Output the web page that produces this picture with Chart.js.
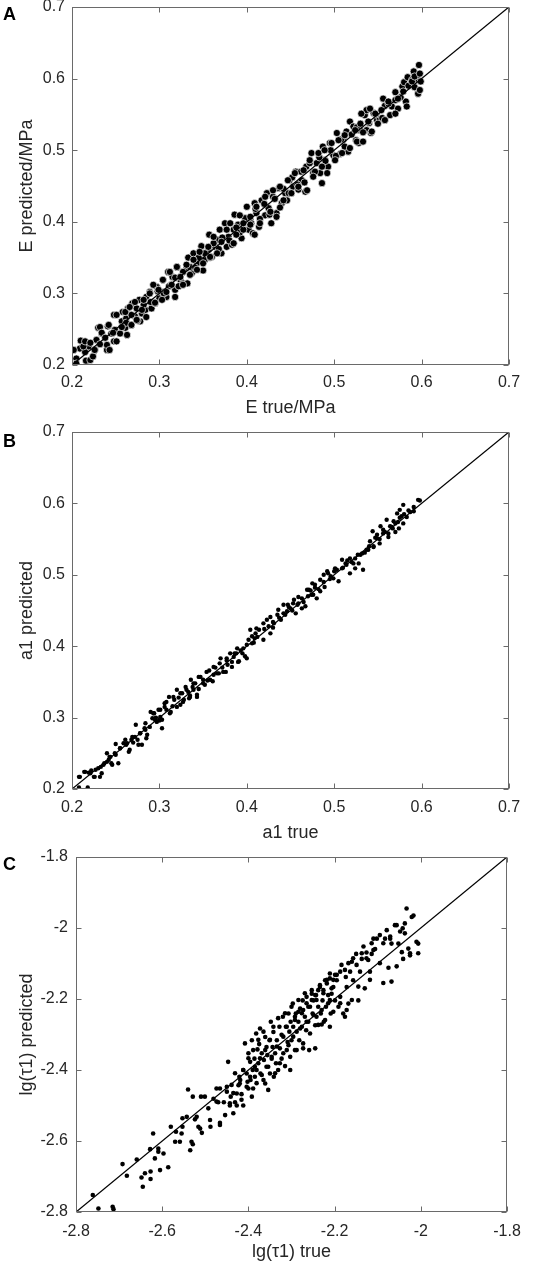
<!DOCTYPE html>
<html lang="en">
<head>
  <meta charset="UTF-8" />
  <title>Predicted vs true</title>
  <script src="https://cdn.jsdelivr.net/npm/chart.js"></script>
  <style>
    body { margin: 0; background: #fff; font-family: 'Liberation Sans', Arial, sans-serif; }
    #page { position: relative; width: 533px; height: 1263px; overflow: hidden; }
    .panel { position: absolute; left: 0; }
    .tag { position: absolute; left: 3px; font-size: 18px; font-weight: bold; line-height: 1; color: #000; }
  </style>
</head>
<body>
  <div id="page">
    <canvas id="chartA" class="panel" style="top:0px" width="533" height="420"></canvas>
    <canvas id="chartB" class="panel" style="top:420px" width="533" height="424"></canvas>
    <canvas id="chartC" class="panel" style="top:844px" width="533" height="419"></canvas>
    <div class="tag" style="top:5px">A</div>
    <div class="tag" style="top:432px">B</div>
    <div class="tag" style="top:855px">C</div>
  </div>

  <script>
    // ---- data ----
    const ticksAB = [0.2, 0.3, 0.4, 0.5, 0.6, 0.7];
    const tickLabelsAB = ['0.2', '0.3', '0.4', '0.5', '0.6', '0.7'];
    const ticksC = [-2.8, -2.6, -2.4, -2.2, -2, -1.8];
    const tickLabelsC = ['-2.8', '-2.6', '-2.4', '-2.2', '-2', '-1.8'];

    const lineAB = [0.2, 0.7];   // y = x reference line ends
    const lineC = [-2.8, -1.8];

    // panel A: E
    const xA = [0.200,0.205,0.205,0.210,0.209,0.216,0.221,0.219,0.224,0.226,0.228,0.230,0.234,0.240,0.241,0.240,0.248,0.248,0.249,0.255,
      0.257,0.258,0.261,0.262,0.264,0.268,0.269,0.272,0.274,0.277,0.278,0.280,0.284,0.285,0.289,0.291,0.295,0.297,0.300,0.303,
      0.304,0.308,0.310,0.313,0.315,0.318,0.320,0.324,0.327,0.331,0.332,0.333,0.337,0.339,0.343,0.348,0.350,0.352,0.356,0.357,
      0.360,0.364,0.366,0.369,0.371,0.375,0.377,0.379,0.383,0.385,0.386,0.390,0.394,0.400,0.402,0.404,0.407,0.409,0.411,0.414,
      0.417,0.421,0.423,0.425,0.428,0.430,0.434,0.437,0.440,0.444,0.446,0.449,0.453,0.456,0.459,0.463,0.467,0.468,0.474,0.476,
      0.480,0.484,0.486,0.487,0.489,0.493,0.495,0.499,0.503,0.507,0.510,0.514,0.516,0.518,0.522,0.525,0.528,0.530,0.535,0.537,
      0.537,0.542,0.545,0.549,0.556,0.558,0.564,0.566,0.570,0.578,0.580,0.582,0.584,0.589,0.591,0.596,0.596,0.596,0.597,0.599,
      0.573,0.552,0.541,0.531,
      0.215,0.232,0.245,0.262,0.268,0.275,0.282,0.290,0.298,0.305,0.311,0.318,0.322,0.327,0.335,0.341,0.345,0.352,0.358,0.362,
      0.368,0.372,0.380,0.388,0.392,0.398,0.405,0.410,0.415,0.420,0.426,0.432,0.438,0.442,0.448,0.452,0.458,0.462,0.466,0.472,
      0.478,0.483,0.490,0.496,0.502,0.508,0.512,0.520,0.526,0.533,0.540,0.548,0.555,0.562,0.570,0.576,0.585,0.592,
      0.202,0.213,0.215,0.221,0.226,0.232,0.234,0.238,0.242,0.243,0.247,0.251,0.251,0.257,0.261,0.263,0.266,0.268,0.272,0.274,
      0.280,0.282,0.285,0.289,0.293,0.295,0.299,0.303,0.304,0.308,0.312,0.314,0.318,0.320,0.324,0.327,0.331,0.335,0.339,0.343,
      0.346,0.350,0.356,0.358,0.362,0.366,0.371,0.377,0.381,0.385,0.388,0.392,0.396,0.404,0.409,
      0.396,0.404,0.411,0.415,0.421,0.427,0.430,0.434,0.438,0.442,0.447,0.451,0.455,0.459,0.465,0.469,0.472,0.476,0.482,0.486,
      0.489,0.492,0.497,0.501,0.505,0.509,0.512,0.518,0.524,0.526,0.530,0.533,0.539,0.543,0.547,0.550,0.554,0.558,0.562,0.570,
      0.573,0.579,0.583,0.589,0.592,0.598,0.598];
    const yA = [0.221,0.209,0.202,0.234,0.223,0.206,0.207,0.226,0.212,0.221,0.235,0.252,0.244,0.221,0.254,0.228,0.233,0.270,0.249,0.244,
      0.261,0.274,0.252,0.265,0.279,0.256,0.286,0.268,0.279,0.291,0.261,0.272,0.277,0.295,0.302,0.279,0.286,0.309,0.293,0.302,
      0.319,0.295,0.330,0.312,0.323,0.305,0.337,0.319,0.314,0.335,0.314,0.350,0.328,0.356,0.342,0.366,0.332,0.347,0.361,0.382,
      0.351,0.365,0.375,0.389,0.356,0.398,0.365,0.379,0.368,0.389,0.410,0.396,0.377,0.421,0.389,0.403,0.384,0.426,0.412,0.393,
      0.430,0.409,0.440,0.419,0.398,0.435,0.412,0.447,0.426,0.440,0.430,0.458,0.449,0.470,0.445,0.458,0.442,0.477,0.496,0.468,
      0.482,0.468,0.454,0.505,0.486,0.477,0.510,0.493,0.524,0.495,0.514,0.526,0.498,0.540,0.533,0.514,0.510,0.528,0.549,0.556,
      0.528,0.524,0.552,0.542,0.572,0.562,0.549,0.561,0.581,0.589,0.595,0.568,0.602,0.598,0.610,0.584,0.579,0.598,0.619,0.596,
      0.558,0.544,0.558,0.551,
      0.218,0.229,0.244,0.259,0.270,0.262,0.284,0.288,0.303,0.300,0.310,0.322,0.310,0.330,0.337,0.336,0.350,0.356,0.350,0.370,
      0.362,0.378,0.374,0.392,0.385,0.405,0.398,0.418,0.404,0.425,0.410,0.432,0.420,0.446,0.440,0.462,0.452,0.470,0.455,0.482,
      0.470,0.490,0.485,0.500,0.492,0.515,0.505,0.522,0.532,0.525,0.538,0.550,0.545,0.565,0.570,0.574,0.590,0.588,
      0.221,0.226,0.233,0.231,0.221,0.253,0.245,0.238,0.256,0.221,0.245,0.233,0.270,0.253,0.274,0.242,0.281,0.256,0.288,0.263,
      0.277,0.291,0.267,0.300,0.312,0.287,0.305,0.291,0.319,0.302,0.330,0.312,0.295,0.337,0.323,0.312,0.340,0.326,0.347,0.333,
      0.358,0.342,0.365,0.351,0.379,0.356,0.372,0.389,0.398,0.370,0.382,0.409,0.389,0.396,0.382,
      0.398,0.407,0.421,0.398,0.435,0.414,0.444,0.407,0.449,0.430,0.458,0.440,0.468,0.449,0.472,0.444,0.486,0.463,0.496,0.477,
      0.500,0.468,0.510,0.486,0.514,0.496,0.521,0.503,0.528,0.512,0.537,0.512,0.540,0.526,0.551,0.537,0.556,0.542,0.568,0.551,
      0.572,0.582,0.561,0.596,0.603,0.607,0.584];

    // panel B: a1
    const xB = [0.208,0.208,0.218,0.214,0.219,0.225,0.227,0.232,0.233,0.237,0.240,0.242,0.246,0.250,0.250,0.259,0.261,0.265,0.269,0.273,
      0.275,0.278,0.280,0.284,0.286,0.290,0.292,0.294,0.297,0.301,0.303,0.306,0.311,0.313,0.317,0.320,0.324,0.326,0.330,0.334,
      0.336,0.339,0.341,0.343,0.347,0.352,0.357,0.361,0.364,0.368,0.370,0.376,0.378,0.381,0.385,0.389,0.391,0.395,0.398,0.402,
      0.406,0.410,0.414,0.419,0.423,0.427,0.431,0.435,0.439,0.442,0.446,0.450,0.454,0.456,0.459,0.463,0.467,0.471,0.475,0.476,
      0.480,0.484,0.488,0.492,0.496,0.501,0.505,0.509,0.513,0.518,0.524,0.528,0.532,0.537,0.541,0.544,0.549,0.553,0.556,0.560,
      0.564,0.568,0.572,0.575,0.579,0.577,0.591,0.596,0.574,0.545,0.522,
      0.222,0.244,0.255,0.262,0.270,0.283,0.296,0.300,0.308,0.315,0.322,0.328,0.333,0.335,0.338,0.345,0.350,0.355,0.362,0.372,
      0.377,0.383,0.388,0.393,0.400,0.408,0.412,0.420,0.425,0.430,0.437,0.444,0.448,0.452,0.458,0.465,0.470,0.473,0.478,0.482,
      0.488,0.495,0.500,0.510,0.515,0.520,0.527,0.535,0.540,0.547,0.552,0.558,0.562,0.567,0.570,0.575,0.580,0.585,
      0.209,0.215,0.221,0.226,0.230,0.234,0.236,0.240,0.243,0.245,0.249,0.253,0.255,0.263,0.266,0.268,0.272,0.276,0.278,0.284,
      0.285,0.289,0.293,0.295,0.299,0.301,0.303,0.306,0.308,0.312,0.316,0.320,0.324,0.327,0.331,0.335,0.339,0.343,0.345,0.350,
      0.354,0.358,0.362,0.366,0.369,0.373,0.377,0.383,0.386,0.390,0.396,0.400,0.406,0.409,
      0.404,0.411,0.419,0.427,0.430,0.436,0.442,0.447,0.453,0.459,0.463,0.469,0.474,0.478,0.484,0.489,0.493,0.499,0.503,0.509,
      0.514,0.518,0.524,0.530,0.533,0.539,0.545,0.549,0.552,0.556,0.562,0.566,0.570,0.573,0.579,0.583,0.587,0.591,0.598];
    const yB = [0.217,0.202,0.202,0.224,0.223,0.217,0.227,0.217,0.231,0.236,0.250,0.241,0.234,0.248,0.263,0.264,0.269,0.252,0.273,0.290,
      0.269,0.278,0.262,0.292,0.276,0.308,0.299,0.306,0.294,0.311,0.297,0.320,0.329,0.308,0.325,0.339,0.318,0.334,0.343,0.327,
      0.353,0.339,0.348,0.329,0.357,0.346,0.366,0.351,0.370,0.362,0.383,0.364,0.374,0.390,0.385,0.397,0.379,0.390,0.386,0.409,
      0.414,0.418,0.423,0.409,0.437,0.418,0.432,0.444,0.437,0.458,0.449,0.453,0.465,0.446,0.460,0.467,0.456,0.479,0.488,0.472,
      0.467,0.477,0.500,0.505,0.498,0.509,0.491,0.521,0.516,0.523,0.509,0.516,0.530,0.535,0.547,0.561,0.556,0.568,0.563,0.577,
      0.568,0.575,0.586,0.591,0.598,0.582,0.589,0.605,0.565,0.540,0.516,
      0.226,0.245,0.257,0.262,0.265,0.285,0.300,0.296,0.311,0.316,0.328,0.325,0.336,0.331,0.343,0.340,0.353,0.352,0.360,0.370,
      0.380,0.378,0.390,0.394,0.402,0.405,0.413,0.424,0.428,0.426,0.440,0.444,0.455,0.450,0.458,0.462,0.470,0.478,0.482,0.480,
      0.490,0.494,0.505,0.510,0.520,0.518,0.528,0.531,0.540,0.552,0.550,0.560,0.558,0.565,0.572,0.580,0.585,0.590,
      0.217,0.224,0.222,0.217,0.229,0.222,0.234,0.238,0.245,0.236,0.250,0.236,0.257,0.264,0.255,0.269,0.273,0.262,0.278,0.283,
      0.271,0.287,0.306,0.297,0.311,0.301,0.285,0.315,0.322,0.306,0.329,0.315,0.334,0.322,0.339,0.329,0.348,0.332,0.357,0.348,
      0.364,0.353,0.371,0.362,0.376,0.364,0.383,0.371,0.390,0.378,0.397,0.383,0.404,0.411,
      0.423,0.425,0.432,0.441,0.434,0.451,0.446,0.458,0.460,0.469,0.453,0.479,0.472,0.486,0.493,0.483,0.502,0.495,0.507,0.509,
      0.514,0.502,0.523,0.528,0.507,0.535,0.539,0.551,0.544,0.558,0.553,0.567,0.560,0.574,0.572,0.581,0.588,0.595,0.604];

    // panel C: lg(tau1)
    const xC = [-2.761,-2.748,-2.715,-2.713,-2.692,-2.682,-2.659,-2.648,-2.645,-2.640,-2.628,-2.627,-2.627,-2.621,-2.617,-2.609,-2.605,-2.609,-2.597,-2.586,
      -2.580,-2.570,-2.568,-2.559,-2.555,-2.553,-2.553,-2.543,-2.540,-2.535,-2.532,-2.529,-2.529,-2.524,-2.520,-2.516,-2.512,-2.510,-2.508,-2.493,
      -2.489,-2.488,-2.481,-2.474,-2.470,-2.466,-2.466,-2.457,-2.454,-2.450,-2.447,-2.443,-2.441,-2.435,-2.435,-2.431,-2.427,-2.423,-2.421,-2.420,
      -2.416,-2.412,-2.412,-2.408,-2.404,-2.402,-2.400,-2.400,-2.396,-2.395,-2.392,-2.390,-2.389,-2.386,-2.385,-2.382,-2.381,-2.379,-2.377,-2.375,
      -2.373,-2.372,-2.369,-2.365,-2.364,-2.361,-2.361,-2.358,-2.356,-2.354,-2.351,-2.350,-2.348,-2.346,-2.344,-2.342,-2.341,-2.338,-2.336,-2.334,
      -2.331,-2.328,-2.327,-2.323,-2.320,-2.319,-2.315,-2.313,-2.311,-2.309,-2.307,-2.305,-2.303,-2.302,-2.300,-2.297,-2.296,-2.292,-2.290,-2.288,
      -2.284,-2.282,-2.280,-2.276,-2.274,-2.273,-2.269,-2.266,-2.265,-2.261,-2.259,-2.257,-2.253,-2.251,-2.249,-2.245,-2.243,-2.242,-2.238,-2.234,
      -2.232,-2.230,-2.228,-2.225,-2.222,-2.220,-2.215,-2.211,-2.209,-2.207,-2.203,-2.199,-2.195,-2.191,-2.187,-2.184,-2.180,-2.176,-2.174,-2.172,
      -2.168,-2.164,-2.160,-2.157,-2.150,-2.145,-2.141,-2.137,-2.133,-2.130,-2.126,-2.122,-2.118,-2.114,-2.110,-2.106,-2.102,-2.095,-2.087,-2.083,
      -2.079,-2.075,-2.071,-2.068,-2.060,-2.056,-2.052,-2.044,-2.042,-2.041,-2.037,-2.033,-2.029,-2.025,-2.021,-2.017,-2.006,-2.010,
      -2.501,-2.474,-2.466,-2.450,-2.443,-2.439,-2.431,-2.427,-2.419,-2.416,-2.412,-2.404,-2.400,-2.396,-2.392,-2.389,-2.385,-2.381,-2.377,-2.373,
      -2.369,-2.365,-2.361,-2.358,-2.354,-2.350,-2.346,-2.342,-2.338,-2.334,-2.331,-2.327,-2.323,-2.319,-2.315,-2.311,-2.307,-2.303,-2.300,-2.296,
      -2.292,-2.288,-2.284,-2.280,-2.276,-2.273,-2.269,-2.265,-2.261,-2.257,-2.253,-2.249,-2.245,-2.242,-2.238,-2.234,-2.230,-2.226,-2.222,-2.218,
      -2.215,-2.211,-2.207,-2.203,-2.199,
      -2.056,-2.037,-2.048,-2.071,-2.095,-2.087,-2.114,-2.110,-2.137,-2.126,-2.157,-2.149,-2.168,-2.176,-2.187,-2.195,-2.203,-2.211,-2.218,-2.226,
      -2.238,-2.245,-2.253,-2.265,-2.273,-2.284,-2.292,-2.145,-2.118,-2.160,-2.172,-2.187,-2.211,-2.068,-2.025,-2.006];
    const yC = [-2.752,-2.790,-2.785,-2.792,-2.665,-2.698,-2.652,-2.703,-2.729,-2.691,-2.623,-2.686,-2.707,-2.579,-2.649,-2.621,-2.682,-2.630,-2.635,-2.674,
      -2.560,-2.602,-2.574,-2.602,-2.579,-2.560,-2.536,-2.532,-2.455,-2.626,-2.602,-2.609,-2.475,-2.539,-2.532,-2.560,-2.565,-2.475,-2.577,-2.508,
      -2.541,-2.560,-2.481,-2.452,-2.491,-2.549,-2.555,-2.491,-2.527,-2.447,-2.377,-2.500,-2.475,-2.465,-2.522,-2.491,-2.500,-2.443,-2.419,-2.438,
      -2.468,-2.500,-2.400,-2.325,-2.410,-2.433,-2.353,-2.452,-2.377,-2.428,-2.316,-2.400,-2.452,-2.368,-2.419,-2.297,-2.400,-2.342,-2.381,-2.327,
      -2.283,-2.410,-2.353,-2.428,-2.372,-2.307,-2.438,-2.335,-2.358,-2.391,-2.316,-2.410,-2.264,-2.368,-2.335,-2.293,-2.419,-2.353,-2.381,-2.316,
      -2.400,-2.278,-2.339,-2.368,-2.250,-2.306,-2.389,-2.278,-2.344,-2.321,-2.241,-2.292,-2.363,-2.264,-2.316,-2.213,-2.278,-2.344,-2.241,-2.292,
      -2.264,-2.316,-2.227,-2.278,-2.204,-2.339,-2.250,-2.288,-2.194,-2.264,-2.344,-2.222,-2.185,-2.241,-2.204,-2.274,-2.189,-2.250,-2.222,-2.166,
      -2.241,-2.272,-2.204,-2.264,-2.147,-2.222,-2.189,-2.128,-2.241,-2.185,-2.166,-2.204,-2.147,-2.222,-2.194,-2.104,-2.241,-2.250,-2.138,-2.166,
      -2.213,-2.123,-2.095,-2.147,-2.073,-2.204,-2.123,-2.087,-2.052,-2.170,-2.069,-2.090,-2.123,-2.073,-2.030,-2.059,-2.030,-2.099,-2.155,-2.030,
      -2.006,-2.112,-2.030,-2.044,-1.992,-2.108,-2.044,-2.068,-2.001,-2.087,-2.015,-1.945,-2.058,-2.077,-1.969,-1.965,-2.044,-2.039,
      -2.475,-2.489,-2.452,-2.461,-2.494,-2.442,-2.409,-2.466,-2.428,-2.484,-2.400,-2.447,-2.367,-2.419,-2.475,-2.344,-2.391,-2.437,-2.315,-2.367,
      -2.414,-2.292,-2.344,-2.391,-2.456,-2.315,-2.363,-2.278,-2.409,-2.334,-2.254,-2.381,-2.301,-2.353,-2.240,-2.278,-2.330,-2.400,-2.222,-2.306,
      -2.259,-2.344,-2.203,-2.283,-2.240,-2.325,-2.184,-2.264,-2.222,-2.297,-2.175,-2.245,-2.339,-2.203,-2.273,-2.161,-2.231,-2.184,-2.259,-2.146,
      -2.212,-2.278,-2.170,-2.236,-2.132,
      -1.992,-1.987,-2.010,-2.024,-2.020,-2.043,-2.043,-2.062,-2.071,-2.085,-2.085,-2.104,-2.099,-2.118,-2.123,-2.132,-2.146,-2.142,-2.156,-2.175,
      -2.175,-2.189,-2.203,-2.212,-2.231,-2.236,-2.250,-2.165,-2.146,-2.203,-2.231,-2.212,-2.203,-2.151,-2.071,-2.071];

    // ---- drawing ----
    const FONT = "'Liberation Sans', Arial, sans-serif";
    const TEXT = '#262626';

    const pairs = (xs, ys) => xs.map((x, i) => ({ x: x, y: ys[i] }));

    // MATLAB-like box with inward ticks on all four sides
    const boxTicks = {
      id: 'boxTicks',
      afterDraw(chart) {
        const { ctx, chartArea: a, scales: { x, y } } = chart;
        const len = 5;
        const L = Math.round(a.left) + 0.5, R = Math.round(a.right) - 0.5;
        const T = Math.round(a.top) + 0.5, B = Math.round(a.bottom) - 0.5;
        ctx.save();
        ctx.strokeStyle = '#6a6a6a';
        ctx.lineWidth = 1;
        ctx.strokeRect(L, T, R - L, B - T);
        ctx.beginPath();
        x.ticks.forEach(t => {
          const p = Math.round(x.getPixelForValue(t.value)) + 0.5;
          ctx.moveTo(p, B); ctx.lineTo(p, B - len);
          ctx.moveTo(p, T); ctx.lineTo(p, T + len);
        });
        y.ticks.forEach(t => {
          const p = Math.round(y.getPixelForValue(t.value)) + 0.5;
          ctx.moveTo(L, p); ctx.lineTo(L + len, p);
          ctx.moveTo(R, p); ctx.lineTo(R - len, p);
        });
        ctx.stroke();
        ctx.restore();
      }
    };

    function makeChart(id, o) {
      return new Chart(document.getElementById(id), {
        type: 'scatter',
        data: {
          datasets: [
            {
              type: 'line',
              data: [{ x: o.line[0], y: o.line[0] }, { x: o.line[1], y: o.line[1] }],
              borderColor: '#000',
              borderWidth: 1.3,
              pointRadius: 0,
              order: 0
            },
            {
              data: o.points,
              backgroundColor: '#000',
              borderColor: o.edge,
              borderWidth: o.edgeWidth,
              pointRadius: o.radius,
              order: 1
            }
          ]
        },
        options: {
          responsive: false,
          animation: false,
          devicePixelRatio: 1,
          layout: { padding: { top: o.padTop, right: o.padRight, left: 0, bottom: 0 } },
          plugins: { legend: { display: false }, tooltip: { enabled: false } },
          scales: {
            x: {
              type: 'linear',
              min: o.ticks[0],
              max: o.ticks[o.ticks.length - 1],
              afterBuildTicks: s => { s.ticks = o.ticks.map(v => ({ value: v })); },
              afterFit: s => { s.height = o.xAxisH; s.paddingLeft = 0; s.paddingRight = 0; },
              grid: { display: false, drawTicks: false },
              border: { display: false },
              ticks: {
                callback: (v, i) => o.labels[i],
                color: TEXT, font: { family: FONT, size: 16 },
                padding: o.xTickPad, maxRotation: 0, autoSkip: false
              },
              title: {
                display: true, text: o.xTitle, color: TEXT,
                font: { family: FONT, size: 18 }, padding: { top: 0, bottom: o.xTitlePad }
              }
            },
            y: {
              type: 'linear',
              min: o.ticks[0],
              max: o.ticks[o.ticks.length - 1],
              afterBuildTicks: s => { s.ticks = o.ticks.map(v => ({ value: v })); },
              afterFit: s => { s.width = o.yAxisW; s.paddingTop = 0; s.paddingBottom = 0; },
              grid: { display: false, drawTicks: false },
              border: { display: false },
              ticks: {
                callback: (v, i) => o.labels[i],
                color: TEXT, font: { family: FONT, size: 16 },
                padding: o.yTickPad, autoSkip: false
              },
              title: {
                display: true, text: o.yTitle, color: TEXT,
                font: { family: FONT, size: 18 }, padding: { top: 16, bottom: 0 }
              }
            }
          }
        },
        plugins: [boxTicks]
      });
    }

    makeChart('chartA', {
      points: pairs(xA, yA), line: lineAB, ticks: ticksAB, labels: tickLabelsAB,
      xTitle: 'E true/MPa', yTitle: 'E predicted/MPa',
      radius: 3.6, edge: 'rgba(255,255,255,0.85)', edgeWidth: 0.8,
      padTop: 7, padRight: 24, yAxisW: 72, xAxisH: 55, xTickPad: 8, yTickPad: 7, xTitlePad: 1
    });

    makeChart('chartB', {
      points: pairs(xB, yB), line: lineAB, ticks: ticksAB, labels: tickLabelsAB,
      xTitle: 'a1 true', yTitle: 'a1 predicted',
      radius: 2.2, edge: '#000', edgeWidth: 0,
      padTop: 12, padRight: 24, yAxisW: 72, xAxisH: 55, xTickPad: 9, yTickPad: 7, xTitlePad: 0
    });

    makeChart('chartC', {
      points: pairs(xC, yC), line: lineC, ticks: ticksC, labels: tickLabelsC,
      xTitle: 'lg(τ1) true', yTitle: 'lg(τ1) predicted',
      radius: 2.3, edge: '#000', edgeWidth: 0,
      padTop: 13, padRight: 26, yAxisW: 76, xAxisH: 51, xTickPad: 10, yTickPad: 8, xTitlePad: 0
    });
  </script>
</body>
</html>
